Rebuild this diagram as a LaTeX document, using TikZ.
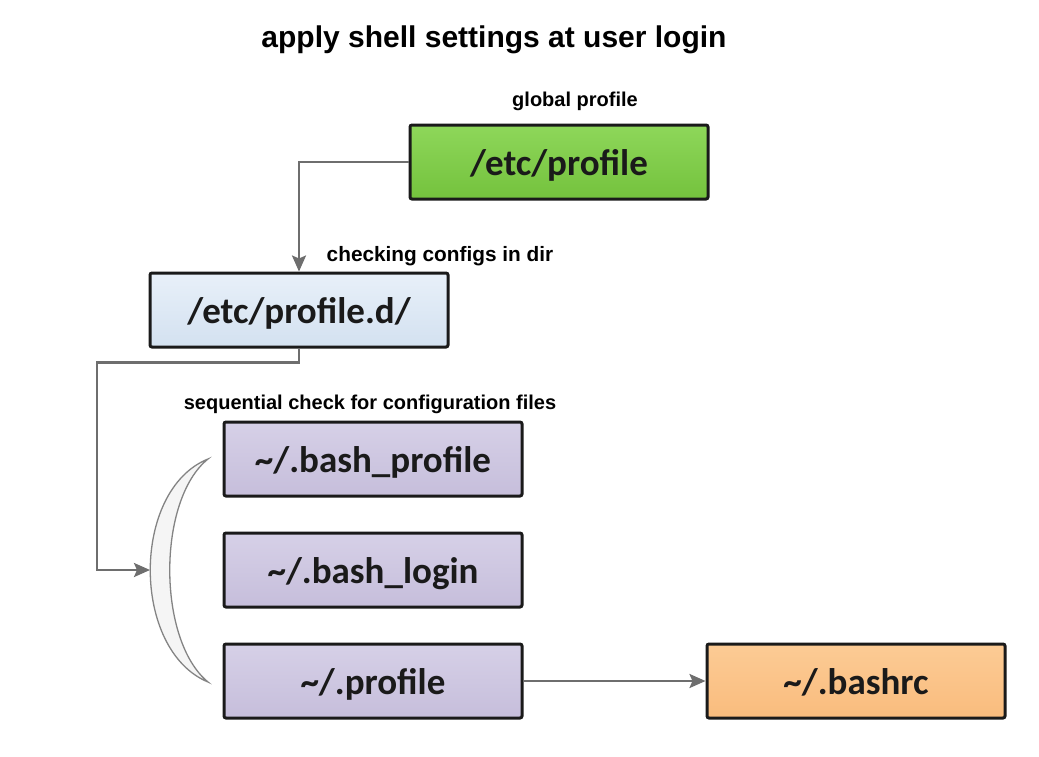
\documentclass[tikz,border=0pt]{standalone}
\usepackage{fontspec}
\setmainfont{Liberation Sans}
\newfontfamily\boxfont{Carlito}
\usetikzlibrary{arrows.meta}
\definecolor{conn}{HTML}{6E6E6E}
\definecolor{greenT}{HTML}{8ED75A}
\definecolor{greenB}{HTML}{74C23D}
\definecolor{blueT}{HTML}{E8F0F9}
\definecolor{blueB}{HTML}{D3E1F0}
\definecolor{lavT}{HTML}{D6D0E7}
\definecolor{lavB}{HTML}{C6BEDB}
\definecolor{orT}{HTML}{FCCB95}
\definecolor{orB}{HTML}{F9BC7D}
\definecolor{ink}{HTML}{1A1A1A}
\tikzset{
  filebox/.style={draw=ink, line width=3pt, rounded corners=2pt,
    minimum width=298pt, minimum height=74pt, inner sep=0pt,
    text height=26pt, text depth=0pt, text=ink,
    font=\boxfont\bfseries\fontsize{37}{40}\selectfont},
  note/.style={font=\bfseries\fontsize{20}{22}\selectfont, inner sep=0pt},
  connector/.style={draw=conn, line width=2.5pt},
  arr/.style={-{Stealth[length=16pt,width=14pt,inset=3pt]}}
}
\begin{document}
\begin{tikzpicture}[x=1pt,y=-1pt]
\useasboundingbox (0,0) rectangle (1039,756);
\fill[white] (0,0) rectangle (1039,756);

\node[font=\bfseries\fontsize{30}{34}\selectfont, inner sep=0pt] (title) at (494,40) {apply shell settings at user login};

\node[filebox, top color=greenT, bottom color=greenB] (etc) at (559,162) {/etc/profile};
\node[filebox, top color=blueT, bottom color=blueB] (etcd) at (299,310) {/etc/profile.d/};
\node[filebox, top color=lavT, bottom color=lavB] (bp) at (373,459) {\~{}/.bash\_profile};
\node[filebox, top color=lavT, bottom color=lavB] (bl) at (373,570) {\~{}/.bash\_login};
\node[filebox, top color=lavT, bottom color=lavB] (pr) at (373,681) {\~{}/.profile};
\node[filebox, top color=orT, bottom color=orB] (rc) at (856,681) {\~{}/.bashrc};

\node[note] (gp) at (575,101) {global profile};
\node[note, font=\bfseries\fontsize{20.8}{22}\selectfont] (cc) at (440,256) {checking configs in dir};
\node[note] (sc) at (370,404) {sequential check for configuration files};

% crescent bracket
\coordinate (ctop) at (208,459);
\coordinate (cbot) at (208,682);
\coordinate (cmid) at (150,570);
\filldraw[fill=white!96!black, draw=conn!85, line width=1.3pt]
  (ctop) .. controls (131,490) and (131,650) .. (cbot)
         .. controls (157,640) and (157,500) .. (ctop) -- cycle;

% connectors
\draw[connector, arr] (etc.west) -| (etcd.north);
\draw[connector, arr] (etcd.south) -- ++(0,14) -| (97,570) -- (cmid);
\draw[connector, arr] (pr.east) -- (rc.west);
\end{tikzpicture}
\end{document}
